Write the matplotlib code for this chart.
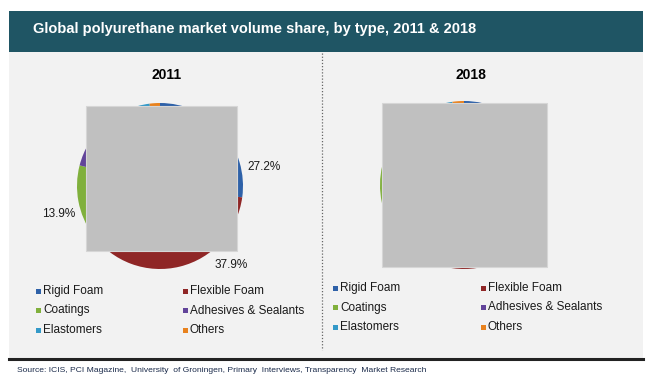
import matplotlib.pyplot as plt
from matplotlib.patches import Rectangle
from matplotlib.lines import Line2D

plt.rcParams['font.family'] = ['Liberation Sans', 'DejaVu Sans']

# data
types = ['Rigid Foam', 'Flexible Foam', 'Coatings', 'Adhesives & Sealants', 'Elastomers', 'Others']
share_2011 = [27.2, 37.9, 13.9, 9.5, 9.5, 2.0]
share_2018 = [28.5, 35.9, 14.4, 9.6, 9.4, 2.2]
colors = ['#2e61a8', '#8f2626', '#80b03c', '#62449a', '#3399c8', '#e8821e']

W, H = 650, 388
fig = plt.figure(figsize=(W / 100, H / 100), dpi=100)
fig.patch.set_facecolor('white')


def fx(x):
    return x / W


def fy(y):
    return 1 - y / H


def frect(x0, y0, x1, y1, **kw):
    r = Rectangle((fx(x0), fy(y1)), fx(x1) - fx(x0), fy(y0) - fy(y1),
                  transform=fig.transFigure, **kw)
    fig.add_artist(r)
    return r


# header band and panel
frect(9, 11, 643, 52, facecolor='#1f5564', edgecolor='none', zorder=0)
frect(9, 52, 643, 358, facecolor='#f2f2f2', edgecolor='none', zorder=0)
fig.add_artist(Line2D([fx(9), fx(643)], [fy(359), fy(359)], color='#222222', lw=2.2,
                      transform=fig.transFigure))
fig.add_artist(Line2D([fx(322), fx(322)], [fy(53), fy(350)], color='#666666', lw=0.9,
                      ls=(0, (1, 1.5)), transform=fig.transFigure))

fig.text(fx(33), fy(29), 'Global polyurethane market volume share, by type, 2011 & 2018',
         color='white', fontsize=10.5, fontweight='bold', va='center', ha='left')
fig.text(fx(17), fy(370), 'Source: ICIS, PCI Magazine,  University  of Groningen, Primary  Interviews, Transparency  Market Research',
         color='#1a2a4a', fontsize=6.1, va='center', ha='left')


def draw_pie(values, year, cx, cy, r, title_y, labels, box, leg_x, leg_y):
    ax = fig.add_axes([fx(cx - r), fy(cy + r), 2 * r / W, 2 * r / H])
    ax.pie(values, colors=colors, startangle=90, counterclock=False,
           wedgeprops=dict(linewidth=0))
    ax.set_xlim(-1, 1)
    ax.set_ylim(-1, 1)
    ax.axis('off')
    for (lx, ly), v in labels:
        ax.text(lx, ly, f'{v:.1f}%', fontsize=8.5, ha='center', va='center', color='#1a1a1a')
    fig.text(fx(cx + 7), fy(title_y), year, fontsize=10, fontweight='bold',
             ha='center', va='center')
    frect(*box, facecolor='#c0c0c0', edgecolor='#d6d6d6', lw=0.8, zorder=5)
    # legend, row-major in two columns
    for i, (name, c) in enumerate(zip(types, colors)):
        row, col = divmod(i, 2)
        x = leg_x[col]
        y = leg_y + row * 19.5
        fig.add_artist(Rectangle((fx(x - 3), fy(y + 2.5)), 5 / W, 5 / H, facecolor=c,
                                 edgecolor='none', transform=fig.transFigure))
        fig.text(fx(x + 4), fy(y), name, fontsize=8.5, ha='left', va='center', color='#1a1a1a')


draw_pie(share_2011, '2011', 160, 186, 83, 75,
         [((1.25, 0.23), share_2011[0]), ((0.86, -0.95), share_2011[1]),
          ((-1.22, -0.34), share_2011[2])],
         (86, 106, 237, 251), (39, 186), 291)
draw_pie(share_2018, '2018', 464, 185, 84, 75, [],
         (382, 103, 547, 267), (336, 484), 288)

fig.savefig('out.png', dpi=100)
